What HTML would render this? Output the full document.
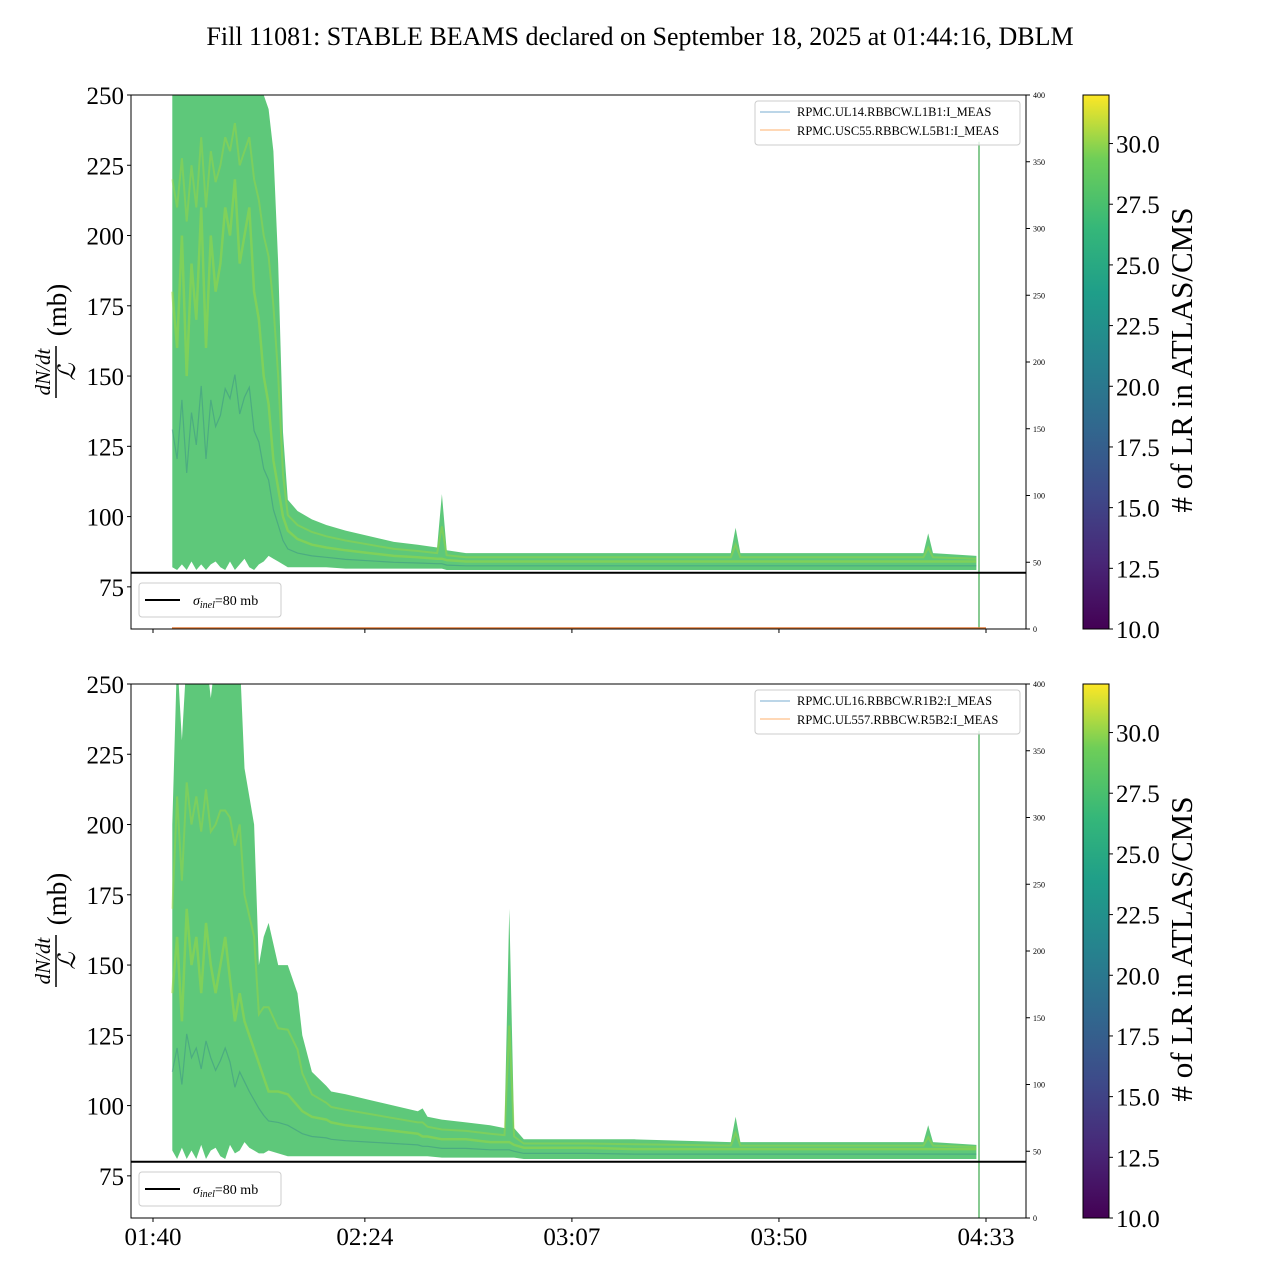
<!DOCTYPE html>
<html><head><meta charset="utf-8"><style>
body{margin:0;background:#fff;}
svg text{font-family:"Liberation Serif","DejaVu Serif",serif;}
</style></head><body>
<svg id="fig" width="1280" height="1280" xmlns="http://www.w3.org/2000/svg">
<defs>
<linearGradient id="vir" x1="0" y1="1" x2="0" y2="0">
<stop offset="0" stop-color="#440154"/><stop offset="0.13" stop-color="#482878"/><stop offset="0.25" stop-color="#3e4989"/><stop offset="0.38" stop-color="#31688e"/><stop offset="0.5" stop-color="#26828e"/><stop offset="0.63" stop-color="#1f9e89"/><stop offset="0.75" stop-color="#35b779"/><stop offset="0.88" stop-color="#6ece58"/><stop offset="1" stop-color="#fde725"/>
</linearGradient>
</defs>
<text x="640" y="45" font-size="26" text-anchor="middle">Fill 11081: STABLE BEAMS declared on September 18, 2025 at 01:44:16, DBLM</text>
<g id="panels"></g>
</svg>
<script>
// shared x ticks (minutes since 01:40)
const xTickMin = [0, 44, 87, 130, 173];
const xTickLabels = ["01:40","02:24","03:07","03:50","04:33"];
const yTicks = [75,100,125,150,175,200,225,250];
const rTicks = [0,50,100,150,200,250,300,350,400];
const cbTicks = [10,12.5,15,17.5,20,22.5,25,27.5,30];

// top panel data
const topTimes = [4,5,6,7,8,9,10,11,12,13,14,15,16,17,18,19,20,21,22,23,24,25,26,27,28,30,33,36,40,45,50,55,59,60,61,65,80,100,120,121,122,140,160,161,162,171];
const topUpper = [260,260,255,260,260,250,260,260,260,258,260,260,260,260,260,260,260,260,255,250,245,230,190,130,106,102,99,97,95,93,91,90,89,108,88,87,87,87,87,96,87,87,87,94,87,86];
const topMid   = [180,160,200,150,190,170,210,160,200,180,190,210,200,220,190,200,210,180,170,150,140,120,110,100,95,92,90,89,88,87,86,85.5,85,85,84.5,84,84,84,84,84,84,84,84,84,84,84];
const topLower = [82,81,83,81,84,81,83,81,83,84,82,81,84,81,83,85,82,81,83,84,86,85,84,83,82,82,82,82,81.5,81.5,81.5,81.5,81.5,81.5,81,81,81,81,81,81,81,81,81,81,81,81];

// bottom panel data
const botTimes = [4,5,6,7,8,9,10,11,12,13,14,15,16,17,18,19,20,21,22,23,24,26,28,30,31,33,36,37,40,45,50,55,56,57,60,65,70,73,74,75,77,80,90,100,120,121,122,140,160,161,162,171];
const botUpper = [200,260,230,260,250,260,255,260,245,260,260,250,260,255,260,220,210,200,150,160,165,150,150,140,125,112,107,105,104,102,100,98,99,96,95,94,93,92,170,92,88,88,88,88,87,96,87,87,87,93,87,86];
const botMid   = [140,160,130,170,150,160,140,165,150,140,150,160,145,130,140,130,125,120,115,110,105,105,104,100,98,96,95,94,93,92,91,90,89,89,88,88,87,87,87,86,85,85,85,84.5,84.5,84.5,84.5,84.5,84.5,84.5,84.5,84.5];
const botLower = [84,81,85,81,84,81,86,81,84,85,82,81,86,83,84,87,85,84,83,83,84,83,82,82,82,82,82,82,82,82,82,82,82,82,81.5,81.5,81.5,81.5,81.5,81.5,81,81,81,81,81,81,81,81,81,81,81,81];

const NS="http://www.w3.org/2000/svg";
function mk(tag, attrs, parent){const e=document.createElementNS(NS,tag);for(const k in attrs)e.setAttribute(k,attrs[k]);parent.appendChild(e);return e;}
const root=document.getElementById('panels');
const X0=131,X1=1026;
function xs(m){return 153 + m*(986-153)/173;}

function panel(top, times, upper, mid, lower, leg1, leg2, showX, idx){
  const bot=top+534;
  const ys=v=>top + (250-v)*(534/190);
  const yr=v=>bot - v*534/400;
  const g=mk('g',{},root);
  
  
  const cp='clip'+idx;
  const c=mk('clipPath',{id:cp},g); mk('rect',{x:X0,y:top,width:X1-X0,height:534},c);
  const d=mk('g',{'clip-path':`url(#${cp})`},g);
  let p='';
  times.forEach((t,i)=>{p+=(i?'L':'M')+xs(t).toFixed(1)+','+ys(upper[i]).toFixed(1);});
  for(let i=times.length-1;i>=0;i--)p+='L'+xs(times[i]).toFixed(1)+','+ys(lower[i]).toFixed(1);
  const band=mk('path',{d:p+'Z',fill:'#4cc26c','fill-opacity':'0.9'},d);
  
  
  const pts=k=>times.map((t,i)=>xs(t).toFixed(1)+','+ys(k(i)).toFixed(1)).join(' ');
  const ml=mk('polyline',{points:pts(i=>mid[i]),fill:'none',stroke:'#a8db34','stroke-width':2.5,'stroke-opacity':0.45},d);
  
  
  const ml2=mk('polyline',{points:pts(i=>(mid[i]+lower[i])/2),fill:'none',stroke:'#2a788e','stroke-width':1.2,'stroke-opacity':0.35},d);
  
  
  const ml3=mk('polyline',{points:pts(i=>(mid[i]+upper[i])/2),fill:'none',stroke:'#b5dd2b','stroke-width':2,'stroke-opacity':0.35},d);
  
  
  const vl=mk('line',{x1:979,x2:979,y1:yr(0),y2:yr(365),stroke:'#3aa84a','stroke-width':1.2},d);
  
  
  if(idx===1){const ol=mk('line',{x1:172,x2:986,y1:bot-1,y2:bot-1,stroke:'#e07b39','stroke-width':1.5},d);
    
    }
  const hl=mk('line',{x1:X0,x2:X1,y1:ys(80),y2:ys(80),stroke:'#000','stroke-width':2},g);
  
  
  const fr=mk('rect',{x:X0,y:top,width:X1-X0,height:534,fill:'none',stroke:'#000','stroke-width':1},g);
  
  
  yTicks.forEach(v=>{const y=ys(v);mk('line',{x1:X0-4,x2:X0,y1:y,y2:y,stroke:'#000'},g);
    const t=mk('text',{x:X0-7,y:y+9,'font-size':25,'text-anchor':'end'},g);t.textContent=v;
    
    });
  rTicks.forEach(v=>{const y=yr(v);mk('line',{x1:X1,x2:X1+4,y1:y,y2:y,stroke:'#000'},g);
    const t=mk('text',{x:X1+7,y:y+3,'font-size':8},g);t.textContent=v;
    
    });
  xTickMin.forEach((m,i)=>{const x=xs(m);mk('line',{x1:x,x2:x,y1:bot,y2:bot+4,stroke:'#000'},g);
    if(showX){const t=mk('text',{x:x,y:bot+27,'font-size':25,'text-anchor':'middle'},g);t.textContent=xTickLabels[i];
      
      }});
  const yl=mk('g',{transform:`translate(58,${top+265}) rotate(-90)`},g);
  
  
  let t=mk('text',{x:-12,y:-8,'font-size':21,'font-style':'italic','text-anchor':'middle'},yl);t.textContent='dN/dt';
  mk('line',{x1:-38,x2:14,y1:-2,y2:-2,stroke:'#000','stroke-width':1.5},yl);
  t=mk('text',{x:-12,y:17,'font-size':24,'font-style':'italic','text-anchor':'middle'},yl);t.textContent='ℒ';
  t=mk('text',{x:50,y:8,'font-size':27,'text-anchor':'middle'},yl);t.textContent='(mb)';
  const lg=mk('g',{},g);
  
  
  mk('rect',{x:755,y:top+6,width:265,height:44,rx:3,fill:'#fff','fill-opacity':0.8,stroke:'#ccc'},lg);
  mk('line',{x1:760,x2:790,y1:top+17,y2:top+17,stroke:'#1f77b4','stroke-opacity':0.6},lg);
  mk('line',{x1:760,x2:790,y1:top+35,y2:top+35,stroke:'#ff7f0e','stroke-opacity':0.6},lg);
  t=mk('text',{x:797,y:top+21,'font-size':12.5},lg);t.textContent=leg1;
  t=mk('text',{x:797,y:top+40,'font-size':12.5},lg);t.textContent=leg2;
  const sg=mk('g',{},g);
  
  
  mk('rect',{x:139,y:bot-46,width:142,height:34,rx:3,fill:'#fff',stroke:'#ccc'},sg);
  mk('line',{x1:145,x2:180,y1:bot-29,y2:bot-29,stroke:'#000','stroke-width':2},sg);
  t=mk('text',{x:193,y:bot-24,'font-size':14},sg);
  t.innerHTML='<tspan font-style="italic">σ</tspan><tspan font-style="italic" font-size="10" dy="3">inel</tspan><tspan dy="-3">=80 mb</tspan>';
  const cb=mk('g',{},g);
  
  
  mk('rect',{x:1083,y:top,width:26,height:534,fill:'url(#vir)',stroke:'#000'},cb);
  const cy=v=>bot-(v-10)*534/22;
  cbTicks.forEach(v=>{const y=cy(v);mk('line',{x1:1109,x2:1113,y1:y,y2:y,stroke:'#000'},cb);
    const tt=mk('text',{x:1116,y:y+9,'font-size':25},cb);tt.textContent=v.toFixed(1);
    
    });
  t=mk('text',{x:0,y:0,'font-size':31,'text-anchor':'middle',transform:`translate(1192,${top+265}) rotate(-90)`},cb);
  t.textContent='# of LR in ATLAS/CMS';
}
panel(95, topTimes, topUpper, topMid, topLower, 'RPMC.UL14.RBBCW.L1B1:I_MEAS','RPMC.USC55.RBBCW.L5B1:I_MEAS', false, 1);
panel(684, botTimes, botUpper, botMid, botLower, 'RPMC.UL16.RBBCW.R1B2:I_MEAS','RPMC.UL557.RBBCW.R5B2:I_MEAS', true, 2);
</script>
</body></html>
